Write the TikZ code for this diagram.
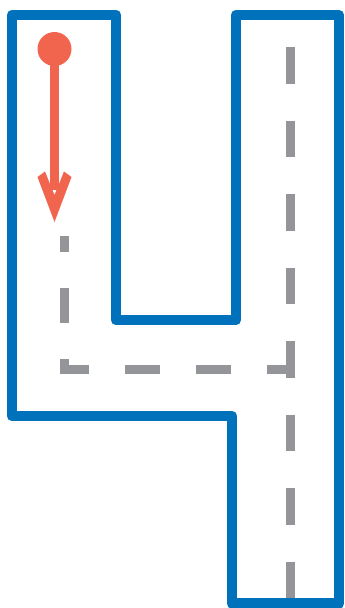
\documentclass[tikz,border=0pt]{standalone}
\definecolor{outlineblue}{HTML}{0072BC}
\definecolor{roadgray}{HTML}{939598}
\definecolor{startred}{HTML}{F1644D}
\begin{document}
\begin{tikzpicture}[x=1pt,y=-1pt,
  outline/.style={draw=outlineblue,line width=10.5pt,line join=round},
  centreline/.style={draw=roadgray,line width=9pt,line cap=butt},
  redmark/.style={fill=startred,draw=none}]
\useasboundingbox (0,0) rectangle (345,608);
% letter outline
\draw[outline] (12,15) -- (116,15) -- (116,320) -- (236,320) -- (236,15) -- (339,15)
  -- (339,603.5) -- (232,603.5) -- (232,416) -- (12,416) -- cycle;
% dashed guide lines
\draw[centreline,dash pattern=on 35 off 36,dash phase=19] (64,236) -- (64,369) -- (290,369);
\draw[centreline,dash pattern=on 36.5 off 37] (290,47) -- (290,598);
% start dot and arrow
\fill[redmark] (54.5,49) circle[radius=17];
\fill[redmark] (50,49) rectangle (59,190);
\fill[redmark] (54.5,222) -- (37.5,177) -- (45,171.5) -- (54.5,195) -- (64,171.5) -- (71.5,177) -- cycle;
\end{tikzpicture}
\end{document}
